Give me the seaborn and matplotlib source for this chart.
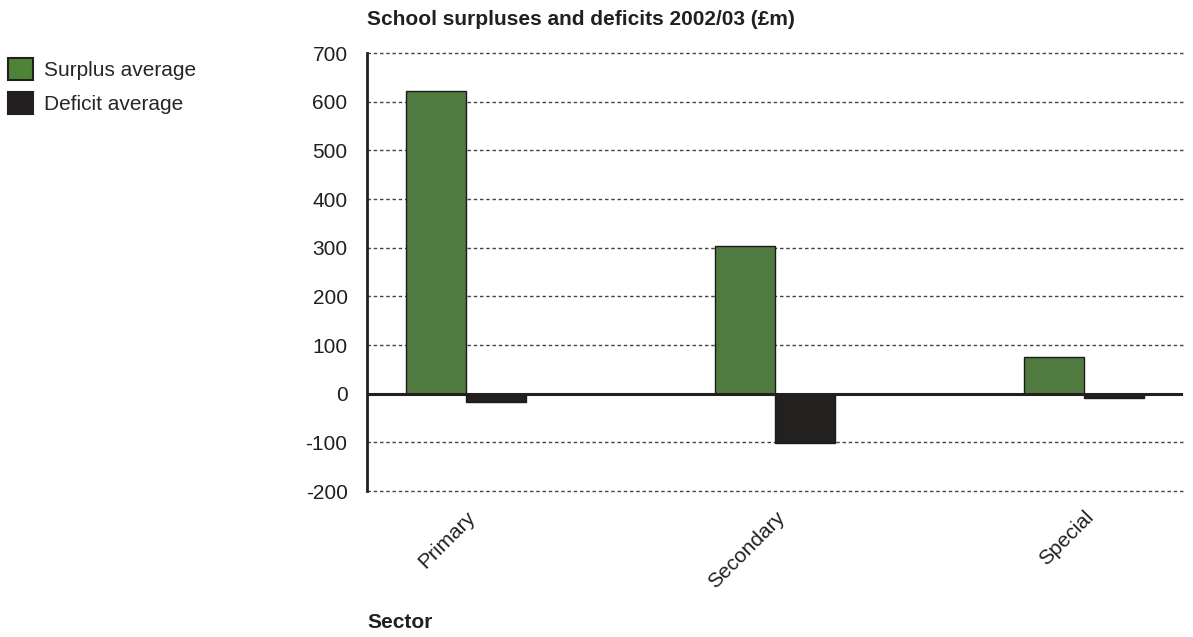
import matplotlib
matplotlib.use("Agg")
import matplotlib.pyplot as plt
import seaborn as sns
import pandas as pd
from matplotlib.patches import Patch

sectors = ["Primary", "Secondary", "Special"]
surplus = [621, 304, 76]
deficit = [-18, -101, -8]
series_names = ["Surplus average", "Deficit average"]
yticks = [-200, -100, 0, 100, 200, 300, 400, 500, 600, 700]

green = "#4d8436"
dark = "#231f20"

df = pd.DataFrame({
    "Sector": sectors * 2,
    "Value": surplus + deficit,
    "Series": [series_names[0]] * 3 + [series_names[1]] * 3,
})

sns.set_theme(style="white")
plt.rcParams['font.family'] = ['Liberation Sans', 'DejaVu Sans']

fig = plt.figure(figsize=(11.93, 6.37), dpi=100)
ax = fig.add_axes([367/1193, 1 - 491/637, (1183-367)/1193, (491-53)/637])

sns.barplot(data=df, x="Sector", y="Value", hue="Series",
            palette=[green, dark], width=0.39, edgecolor="#1a1a1a",
            linewidth=1.0, ax=ax, legend=False, zorder=3)

ax.set_ylim(-200, 700)
ax.set_xlim(-0.32, 2.32)
ax.set_yticks(yticks)
ax.set_yticklabels([str(v) for v in yticks], fontsize=15, color="#231f20")
ax.tick_params(axis="y", length=0, pad=14)
for v in yticks:
    if v == 0:
        ax.axhline(0, color="#231f20", lw=2.2, zorder=4)
    else:
        ax.axhline(v, color="#444444", lw=1.0, ls=(0, (2.5, 2)), zorder=1,
                   clip_on=False)

ax.set_xticks(range(len(sectors)))
ax.set_xticklabels(sectors, rotation=45, ha="right", rotation_mode="anchor",
                   fontsize=15, color="#231f20")
ax.tick_params(axis="x", length=0, pad=12)
ax.set_xlabel("")
ax.set_ylabel("")

for s in ["top", "right", "bottom"]:
    ax.spines[s].set_visible(False)
ax.spines["left"].set_color("#231f20")
ax.spines["left"].set_linewidth(2)

fig.text(367/1193, 1 - 25/637, "School surpluses and deficits 2002/03 (£m)",
         fontsize=15, fontweight="bold", ha="left", va="baseline", color="#231f20")
fig.text(367/1193, 1 - 628/637, "Sector", fontsize=15, fontweight="bold",
         ha="left", va="baseline", color="#231f20")

handles = [Patch(facecolor=green, edgecolor="#231f20", linewidth=1.5),
           Patch(facecolor=dark, edgecolor=dark, linewidth=1.5)]
fig.legend(handles, series_names, loc="upper left",
           bbox_to_anchor=(0.0, 1 - 50/637), frameon=False, fontsize=15,
           handlelength=1.2, handleheight=1.25, handletextpad=0.53,
           labelspacing=0.58, borderaxespad=0.0, borderpad=0.4)

fig.savefig("out.png", dpi=100)
